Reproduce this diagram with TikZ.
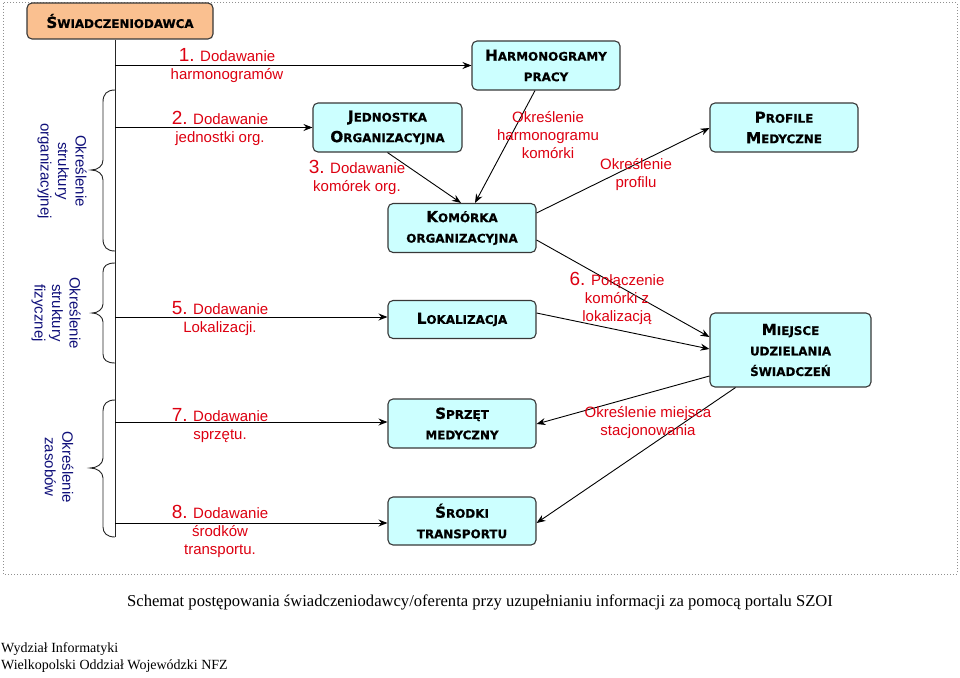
\documentclass[tikz,border=0pt]{standalone}
\usepackage{fontspec}
\setmainfont{Liberation Sans}
\newfontfamily\boxfont{DejaVu Sans}[BoldFeatures={FakeBold=0.7}]
\newfontfamily\seriffont{Liberation Serif}
\usetikzlibrary{arrows.meta}
\definecolor{boxcyan}{HTML}{CCFFFF}
\definecolor{boxorange}{HTML}{FAC090}
\definecolor{boxedge}{HTML}{383838}
\definecolor{lblred}{HTML}{DD0011}
\definecolor{lblblue}{HTML}{10107A}
\definecolor{framegray}{HTML}{909090}
\newcommand\BigC[1]{{\fontsize{15.2}{20}\selectfont #1}}
\newcommand\Num[1]{{\fontsize{19}{18}\selectfont #1}}
\tikzset{
  entity/.style={draw=boxedge, line width=1.1pt, fill=boxcyan, rounded corners=5pt,
    inner sep=0pt, align=center, font=\boxfont\bfseries\fontsize{11.9}{20.5}\selectfont},
  redlbl/.style={text=lblred, align=center, inner sep=0pt, font=\fontsize{15}{18}\selectfont},
  bluelbl/.style={text=lblblue, align=center, inner sep=0pt, rotate=-90, font=\fontsize{15}{17.5}\selectfont},
  arr/.style={-{Stealth[length=9pt,width=7pt,inset=3pt]}, line width=0.9pt, black},
  plainline/.style={line width=0.9pt, black!85},
}
\begin{document}
\begin{tikzpicture}[x=1pt,y=-1pt]
\useasboundingbox (0,0) rectangle (960,677);
\fill[white] (0,0) rectangle (960,677);
\draw[framegray, dotted, line width=1pt] (3,3) rectangle (957,574);

% boxes
\node[entity, fill=boxorange, minimum width=186pt, minimum height=36pt] (swd) at (120,21) {\BigC{Ś}WIADCZENIODAWCA};
\node[entity, minimum width=148pt, minimum height=49pt] (harm) at (546,65.5) {\BigC{H}ARMONOGRAMY\\PRACY};
\node[entity, minimum width=149pt, minimum height=49pt] (jedn) at (387.5,127.5) {\BigC{J}EDNOSTKA\\\BigC{O}RGANIZACYJNA};
\node[entity, minimum width=148pt, minimum height=49pt] (kom) at (462,228) {\BigC{K}OMÓRKA\\ORGANIZACYJNA};
\node[entity, minimum width=148pt, minimum height=49pt] (prof) at (784,127.5) {\BigC{P}ROFILE\\\BigC{M}EDYCZNE};
\node[entity, minimum width=148pt, minimum height=38pt] (lok) at (462,319.5) {\BigC{L}OKALIZACJA};
\node[entity, minimum width=161pt, minimum height=74pt] (miej) at (790.5,350) {\BigC{M}IEJSCE\\UDZIELANIA\\ŚWIADCZEŃ};
\node[entity, minimum width=148pt, minimum height=49pt] (sprz) at (462,423.5) {\BigC{S}PRZĘT\\MEDYCZNY};
\node[entity, minimum width=148pt, minimum height=48pt] (srod) at (462,521) {\BigC{Ś}RODKI\\TRANSPORTU};

% main vertical line
\coordinate (vtop) at (115,39);
\coordinate (vbot) at (115,537);
\draw[plainline] (swd.south -| vtop) -- (vbot);

% horizontal arrows
\coordinate (s1) at (115,65.5);
\coordinate (s2) at (115,127.5);
\coordinate (s5) at (115,317);
\coordinate (s7) at (115,422);
\coordinate (s8) at (115,523);
\draw[arr] (s1) -- (s1 -| harm.west);
\draw[arr] (s2) -- (s2 -| jedn.west);
\draw[arr] (s5) -- (s5 -| lok.west);
\draw[arr] (s7) -- (s7 -| sprz.west);
\draw[arr] (s8) -- (s8 -| srod.west);

% diagonal arrows (yshift in canvas units: positive = up)
\draw[arr] (jedn.south) -- ([xshift=-1pt]kom.north);
\draw[arr] ([xshift=-11pt]harm.south) -- ([xshift=13pt]kom.north);
\draw[arr] ([yshift=15pt]kom.east) -- ([yshift=-0.5pt]prof.west);
\draw[arr] ([yshift=-12pt]kom.east) -- ([yshift=13pt]miej.west);
\draw[arr] ([yshift=6.5pt]lok.east) -- ([yshift=1pt]miej.west);
\draw[arr] ([yshift=-26pt]miej.west) -- ([yshift=-0.5pt]sprz.east);
\draw[arr] ([xshift=-55pt]miej.south) -- ([yshift=-2pt]srod.east);

% braces
\draw[plainline] (115,90) .. controls (107,90) and (103,94) .. (103,102) -- (103,160)
  .. controls (103,166) and (98,170) .. (91,170) .. controls (98,170) and (103,174) .. (103,180)
  -- (103,239) .. controls (103,247) and (107,251) .. (115,251);
\draw[plainline] (115,263) .. controls (107,263) and (103,266) .. (103,272) -- (103,304)
  .. controls (103,309) and (98,313) .. (92,313) .. controls (98,313) and (103,317) .. (103,322)
  -- (103,354) .. controls (103,360) and (107,363) .. (115,363);
\draw[plainline] (115,400) .. controls (107,400) and (103,404) .. (103,411) -- (103,458)
  .. controls (103,464) and (97,468) .. (90,468) .. controls (97,468) and (103,472) .. (103,478)
  -- (103,527) .. controls (103,533) and (107,537) .. (115,537);

% blue rotated labels
\node[bluelbl] (b1) at (62,171) {Określenie\\struktury\\organizacyjnej};
\node[bluelbl] (b2) at (56,313) {Określenie\\struktury\\fizycznej};
\node[bluelbl] (b3) at (59,467) {Określenie\\zasobów};

% red labels
\node[redlbl] (l1) at (227,66) {\Num{1.} Dodawanie\\harmonogramów};
\node[redlbl] (l2) at (220,128) {\Num{2.} Dodawanie\\jednostki org.};
\node[redlbl] (l3) at (357,177) {\Num{3.} Dodawanie\\komórek org.};
\node[redlbl] (lh) at (548,135) {Określenie\\harmonogramu\\komórki};
\node[redlbl] (lp) at (636,175) {Określenie\\profilu};
\node[redlbl] (l5) at (220,319) {\Num{5.} Dodawanie\\Lokalizacji.};
\node[redlbl] (l6) at (617,298) {\Num{6.} Połączenie\\komórki z\\lokalizacją};
\node[redlbl] (l7) at (220,426) {\Num{7.} Dodawanie\\sprzętu.};
\node[redlbl] (lm) at (648,423) {Określenie miejsca\\stacjonowania};
\node[redlbl] (l8) at (220,531) {\Num{8.} Dodawanie\\środków\\transportu.};

% caption and footer
\node[font=\seriffont\fontsize{16.6}{18}\selectfont, inner sep=0pt] (cap) at (480,602)
  {Schemat postępowania świadczeniodawcy/oferenta przy uzupełnianiu informacji za pomocą portalu SZOI};
\node[font=\seriffont\fontsize{14}{17.5}\selectfont, inner sep=0pt, align=left, anchor=north west] (foot) at (1,642)
  {Wydział Informatyki\\Wielkopolski Oddział Wojewódzki NFZ};
\end{tikzpicture}
\end{document}
